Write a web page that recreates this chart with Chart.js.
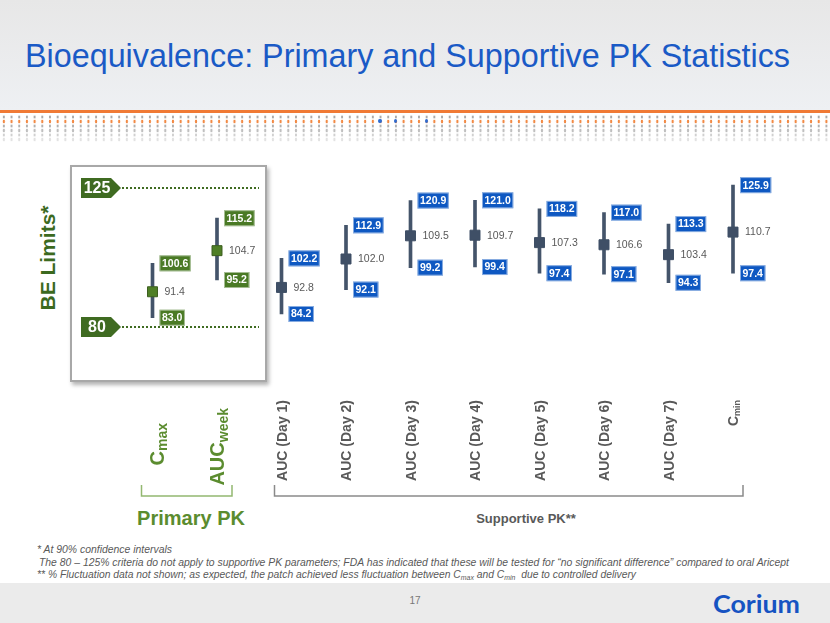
<!DOCTYPE html>
<html>
<head>
<meta charset="utf-8">
<script src="https://cdn.jsdelivr.net/npm/chart.js@4.4.0/dist/chart.umd.min.js"></script>
<style>
    body { margin: 0; width: 830px; height: 623px; position: relative; overflow: hidden; background: #fff; font-family: "Liberation Sans", Arial, sans-serif; }
    .abs { position: absolute; white-space: nowrap; }
    .fit { display: inline-block; transform-origin: 0 0; }
    #topband { left: 0; top: 0; width: 830px; height: 110px; background: linear-gradient(#e7e7e7, #eef0f3); }
    #orange { left: 0; top: 110px; width: 830px; height: 3px; background: #f07a35; }
    .dots { left: 0; width: 830px; height: 4.5px; background-size: 7.7px 4.5px; }
    .bdot { width: 3.2px; height: 4px; border-radius: 50%; background: #2f6bd0; }
    #title { left: 25px; top: 39px; font-size: 33px; line-height: 33px; color: #1a5ac6; }
    #box { left: 70px; top: 165px; width: 197px; height: 217px; box-sizing: border-box; border: 2px solid #a8a8a8; background: #fff; box-shadow: 2px 3px 4px rgba(0,0,0,0.3); }
    #belimits { left: 48px; top: 258px; transform: translate(-50%, -50%) rotate(-90deg); font-size: 21px; font-weight: bold; color: #3c6a1f; }
    #primary { left: 91px; top: 508px; width: 200px; text-align: center; font-size: 20px; line-height: 20px; font-weight: bold; color: #5b8c2f; }
    #supportive { left: 426px; top: 512px; width: 200px; text-align: center; font-size: 13px; line-height: 13px; font-weight: bold; color: #595959; }
    .note { left: 37px; font-size: 10.5px; line-height: 10.5px; font-style: italic; color: #595959; }
    .note sub { font-size: 7px; vertical-align: -2px; }
    #footer { left: 0; top: 583px; width: 830px; height: 40px; background: #ebebeb; }
    #page { left: 395px; top: 596px; width: 40px; text-align: center; font-size: 10px; line-height: 10px; color: #777; }
    #logo { left: 713px; top: 592px; font-size: 24px; line-height: 24px; font-weight: bold; color: #1653c2; font-family: "Lato", "Liberation Sans", sans-serif; }
    #c { position: absolute; left: 0; top: 0; }
</style>
</head>
<body>
<div class="abs" id="topband"></div>
<div class="abs" id="orange"></div>
<div class="abs dots" style="top:114.5px;background-image:radial-gradient(1.5px 2px at 50% 50%, #aaaaaa 70%, transparent 100%);"></div>
<div class="abs dots" style="top:119px;background-image:radial-gradient(1.5px 2px at 50% 50%, #f28a45 70%, transparent 100%);"></div>
<div class="abs dots" style="top:123.5px;background-image:radial-gradient(1.5px 2px at 50% 50%, #b0b0b0 70%, transparent 100%);"></div>
<div class="abs dots" style="top:128px;background-image:radial-gradient(1.5px 2px at 50% 50%, #bfbfbf 70%, transparent 100%);"></div>
<div class="abs dots" style="top:132.5px;background-image:radial-gradient(1.5px 2px at 50% 50%, #d0d0d0 70%, transparent 100%);"></div>
<div class="abs dots" style="top:137px;background-image:radial-gradient(1.5px 2px at 50% 50%, #e2e2e2 70%, transparent 100%);"></div>
<div class="abs bdot" style="left:378.4px;top:119.2px;"></div>
<div class="abs bdot" style="left:393.8px;top:119.2px;"></div>
<div class="abs bdot" style="left:424.6px;top:119.2px;"></div>

<div class="abs" id="title"><span class="fit" data-w="765">Bioequivalence: Primary and Supportive PK Statistics</span></div>

<div class="abs" id="box"></div>
<div class="abs" id="belimits">BE Limits*</div>
<div class="abs" id="primary">Primary PK</div>
<div class="abs" id="supportive">Supportive PK**</div>

<div class="abs note" style="top:544px;"><span class="fit" data-w="135">* At 90% confidence intervals</span></div>
<div class="abs note" style="top:557px;left:39px;"><span class="fit" data-w="750">The 80 – 125% criteria do not apply to supportive PK parameters; FDA has indicated that these will be tested for “no significant difference” compared to oral Aricept</span></div>
<div class="abs note" style="top:569px;"><span class="fit" data-w="599">** % Fluctuation data not shown; as expected, the patch achieved less fluctuation between C<sub>max</sub> and C<sub>min</sub>&nbsp; due to controlled delivery</span></div>

<div class="abs" id="footer"></div>
<div class="abs" id="page">17</div>
<div class="abs" id="logo"><span class="fit" data-w="87">Corium</span></div>

<canvas id="c" width="830" height="623"></canvas>

<script>
// 数据
const categories = ['Cmax', 'AUCweek', 'AUC (Day 1)', 'AUC (Day 2)', 'AUC (Day 3)', 'AUC (Day 4)', 'AUC (Day 5)', 'AUC (Day 6)', 'AUC (Day 7)', 'Cmin'];
const primaryCount = 2;
const pointEstimate = [91.4, 104.7, 92.8, 102.0, 109.5, 109.7, 107.3, 106.6, 103.4, 110.7];
const lowerCI = [83.0, 95.2, 84.2, 92.1, 99.2, 99.4, 97.4, 97.1, 94.3, 97.4];
const upperCI = [100.6, 115.2, 102.2, 112.9, 120.9, 121.0, 118.2, 117.0, 113.3, 125.9];
const beLimits = [125, 80];

const GREEN_DARK = '#3f6b21';
const GREEN = '#5b8c2f';
const BOX_GREEN = '#4a7a25';
const BLUE = '#0e58c2';
const SLATE = '#44546a';
const GREY = '#595959';
const FONT = '"Liberation Sans", Arial, sans-serif';

// 下标标签
const subLabels = { 'Cmax': ['C', 'max'], 'AUCweek': ['AUC', 'week'], 'Cmin': ['C', 'min'] };

// 拉伸文字到目标宽度
document.querySelectorAll('.fit').forEach(el => {
    const w = el.getBoundingClientRect().width;
    el.style.transform = `scaleX(${el.dataset.w / w})`;
});

function valueBox(ctx, text, left, yc, fill) {
    ctx.font = 'bold 10.5px ' + FONT;
    const w = ctx.measureText(text).width + 5;
    const h = 16;
    ctx.fillStyle = fill;
    ctx.fillRect(left, yc - h / 2, w, h);
    ctx.strokeStyle = 'rgba(255,255,255,0.5)';
    ctx.lineWidth = 1;
    ctx.strokeRect(left + 0.5, yc - h / 2 + 0.5, w - 1, h - 1);
    ctx.fillStyle = '#fff';
    ctx.textAlign = 'left';
    ctx.textBaseline = 'middle';
    ctx.fillText(text, left + 2.5, yc + 0.5);
}

const extras = {
    id: 'extras',
    afterDatasetsDraw(chart) {
        const ctx = chart.ctx;
        const xs = chart.scales.x;
        const ys = chart.scales.y;
        ctx.save();

        // BE 限值线和标签
        beLimits.forEach(v => {
            const yy = ys.getPixelForValue(v);
            ctx.strokeStyle = GREEN_DARK;
            ctx.lineWidth = 2;
            ctx.setLineDash([2, 2]);
            ctx.beginPath();
            ctx.moveTo(122, yy);
            ctx.lineTo(259, yy);
            ctx.stroke();
            ctx.setLineDash([]);
            ctx.fillStyle = GREEN_DARK;
            ctx.beginPath();
            ctx.moveTo(81, yy - 10);
            ctx.lineTo(111, yy - 10);
            ctx.lineTo(121, yy);
            ctx.lineTo(111, yy + 10);
            ctx.lineTo(81, yy + 10);
            ctx.closePath();
            ctx.fill();
            ctx.fillStyle = '#fff';
            ctx.font = 'bold 16px ' + FONT;
            ctx.textAlign = 'center';
            ctx.textBaseline = 'middle';
            ctx.fillText(String(v), 97, yy + 1);
        });

        // 数值标签
        categories.forEach((c, i) => {
            const px = xs.getPixelForValue(i);
            const fill = i < primaryCount ? BOX_GREEN : BLUE;
            valueBox(ctx, upperCI[i].toFixed(1), px + 7, ys.getPixelForValue(upperCI[i]), fill);
            valueBox(ctx, lowerCI[i].toFixed(1), px + 7, ys.getPixelForValue(lowerCI[i]), fill);
            ctx.fillStyle = GREY;
            ctx.font = '10.5px ' + FONT;
            ctx.textAlign = 'left';
            ctx.textBaseline = 'middle';
            ctx.fillText(pointEstimate[i].toFixed(1), px + 12, ys.getPixelForValue(pointEstimate[i]) + 0.5);
        });

        // 分类标签（竖排）
        categories.forEach((c, i) => {
            const primary = i < primaryCount;
            const parts = subLabels[c] || [c, ''];
            const mainSize = primary ? 20 : 14;
            const subSize = primary ? 14 : 9;
            const top = primary ? [423, 408][i] : 400;
            const dx = i === 0 ? 4 : 0;
            ctx.save();
            ctx.translate(xs.getPixelForValue(i) + dx, top);
            ctx.rotate(-Math.PI / 2);
            ctx.fillStyle = primary ? GREEN : GREY;
            ctx.font = 'bold ' + mainSize + 'px ' + FONT;
            const wm = ctx.measureText(parts[0]).width;
            ctx.font = 'bold ' + subSize + 'px ' + FONT;
            const ws = parts[1] ? ctx.measureText(parts[1]).width : 0;
            const base = mainSize * 0.716 / 2;
            ctx.textAlign = 'left';
            ctx.textBaseline = 'alphabetic';
            ctx.font = 'bold ' + mainSize + 'px ' + FONT;
            ctx.fillText(parts[0], -(wm + ws), base);
            if (parts[1]) {
                ctx.font = 'bold ' + subSize + 'px ' + FONT;
                ctx.fillText(parts[1], -ws, base + subSize * 0.25);
            }
            ctx.restore();
        });

        // 分组括号
        const bracket = (x1, x2, color) => {
            ctx.strokeStyle = color;
            ctx.lineWidth = 1.5;
            ctx.beginPath();
            ctx.moveTo(x1, 485);
            ctx.lineTo(x1, 496);
            ctx.lineTo(x2, 496);
            ctx.lineTo(x2, 485);
            ctx.stroke();
        };
        bracket(xs.getPixelForValue(0) - 11, xs.getPixelForValue(primaryCount - 1) + 15, '#93b870');
        bracket(xs.getPixelForValue(primaryCount) - 7, xs.getPixelForValue(categories.length - 1) + 10, '#8a8a8a');

        ctx.restore();
    }
};

const markerFill = categories.map((c, i) => i < primaryCount ? '#4f7f26' : '#3f4f66');
const markerBorder = categories.map((c, i) => i < primaryCount ? '#3d5f20' : '#3f4f66');

new Chart(document.getElementById('c').getContext('2d'), {
    type: 'bar',
    data: {
        labels: categories,
        datasets: [{
            type: 'line',
            label: 'Point estimate',
            data: pointEstimate,
            showLine: false,
            pointStyle: 'rect',
            pointRadius: 7.07,
            pointBorderWidth: 1,
            pointBackgroundColor: markerFill,
            pointBorderColor: markerBorder,
            order: 0
        }, {
            type: 'bar',
            label: '90% CI',
            data: lowerCI.map((lo, i) => [lo, upperCI[i]]),
            backgroundColor: SLATE,
            barThickness: 3,
            order: 1
        }]
    },
    options: {
        responsive: false,
        animation: false,
        layout: { padding: { left: 120.25, right: 64.75, top: 157, bottom: 234.2 } },
        scales: {
            x: { type: 'category', display: false, offset: true },
            y: { type: 'linear', display: false, min: 60, max: 135 }
        },
        plugins: {
            legend: { display: false },
            tooltip: { enabled: false }
        }
    },
    plugins: [extras]
});
</script>
</body>
</html>
